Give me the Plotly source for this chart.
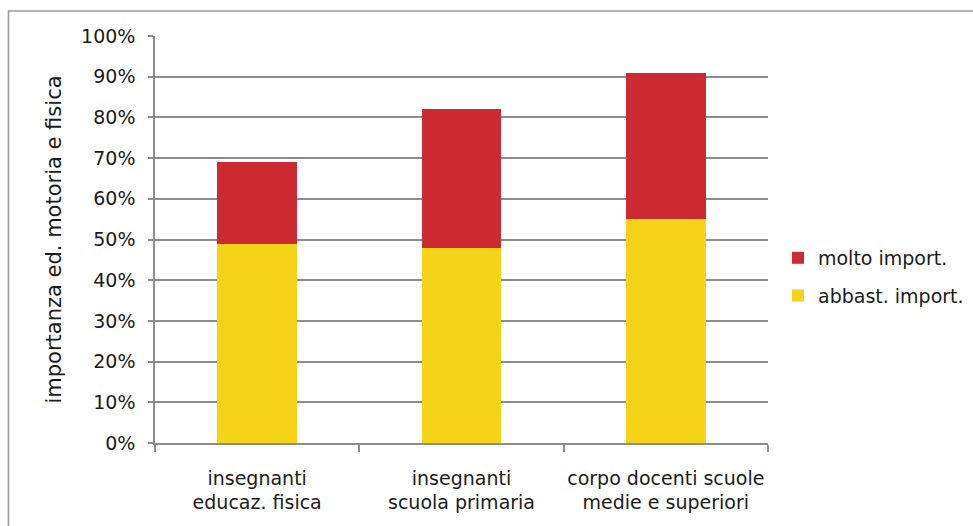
import plotly.graph_objects as go

# Survey groups (two-line category labels)
categories = [
    "insegnanti<br>educaz. fisica",
    "insegnanti<br>scuola primaria",
    "corpo docenti scuole<br>medie e superiori",
]
abbast_import = [49, 48, 55]   # "abbastanza importante", %
molto_import = [20, 34, 36]    # "molto importante", %

tick_vals = [0, 10, 20, 30, 40, 50, 60, 70, 80, 90, 100]
tick_text = [f"{v}%" for v in tick_vals]

FONT = "DejaVu Sans, Verdana, sans-serif"
GRID = "#8c8c8c"

fig = go.Figure()
fig.add_trace(go.Bar(
    x=categories, y=abbast_import, name="abbast. import.",
    marker=dict(color="#F5D316", line=dict(width=0)),
    legendgroup="abbast", legendrank=2, width=0.39,
))
fig.add_trace(go.Bar(
    x=categories, y=molto_import, name="molto import.",
    marker=dict(color="#CC2B31", line=dict(width=0)),
    legendgroup="molto", legendrank=1, width=0.39,
))

fig.update_layout(
    width=973, height=526,
    margin=dict(l=155, r=205, t=36, b=83, autoexpand=False),
    barmode="stack",
    paper_bgcolor="white", plot_bgcolor="white",
    font=dict(family=FONT, size=19, color="#1a1a1a"),
    legend=dict(
        x=1.0163, y=0.408, xanchor="left", yanchor="middle",
        traceorder="grouped", tracegroupgap=10,
        font=dict(size=19), bgcolor="rgba(0,0,0,0)",
    ),
    showlegend=True,
    shapes=[dict(
        type="rect", xref="paper", yref="paper",
        x0=-0.239, x1=1.35, y0=-0.23, y1=1.0614,
        line=dict(color="#999999", width=1.6), fillcolor="rgba(0,0,0,0)",
        layer="below",
    )],
)

fig.update_xaxes(
    showline=True, linecolor=GRID, linewidth=1.5,
    ticks="outside", tickson="boundaries", ticklen=7, tickcolor=GRID, tickwidth=1.5,
    tickangle=0, automargin=False,
    ticklabelstandoff=17, showgrid=False,
)
fig.update_yaxes(
    range=[0, 100], tickvals=tick_vals, ticktext=tick_text,
    showline=True, linecolor=GRID, linewidth=1.5,
    ticks="outside", ticklen=5, tickcolor=GRID, tickwidth=1.5,
    ticklabelstandoff=9, automargin=False,
    showgrid=True, gridcolor=GRID, gridwidth=1.5,
    zeroline=False,
    title=dict(text="importanza ed. motoria e fisica", standoff=14,
               font=dict(size=21)),
)

fig.write_html("out.html")
